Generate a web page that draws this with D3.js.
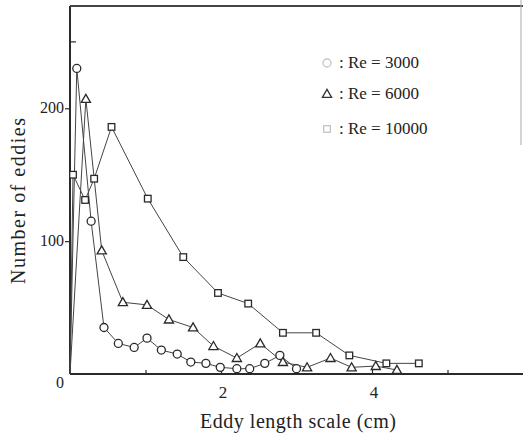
<!DOCTYPE html>
<html>
<head>
<meta charset="utf-8">
<script src="https://cdn.jsdelivr.net/npm/d3@7"></script>
<style>
  html, body { margin: 0; padding: 0; background: #fff; }
  svg { display: block; }
  text { font-family: "Liberation Serif", "DejaVu Serif", serif; fill: #222; }
</style>
</head>
<body>
<svg id="chart" width="523" height="434"></svg>
<script>
// Eddy length scale (cm) and number of eddies, per Reynolds number
const re3000X = [0, 0.09, 0.28, 0.45, 0.64, 0.85, 1.02, 1.21, 1.42, 1.6, 1.8, 1.99, 2.21, 2.38, 2.58, 2.78, 3.0];
const re3000Y = [0, 230, 115, 35, 23, 20, 27, 18, 15, 9, 8, 5, 4, 4, 8, 14, 4];

const re6000X = [0, 0.21, 0.42, 0.70, 1.02, 1.31, 1.63, 1.9, 2.21, 2.52, 2.82, 3.14, 3.45, 3.73, 4.05, 4.33];
const re6000Y = [0, 207, 93, 54, 52, 41, 35, 21, 12, 23, 9, 5, 12, 5, 6, 3];

const re10000X = [0, 0.04, 0.2, 0.32, 0.55, 1.03, 1.5, 1.96, 2.36, 2.82, 3.26, 3.7, 4.19, 4.62];
const re10000Y = [0, 150, 131, 147, 186, 132, 88, 61, 53, 31, 31, 14, 8, 8];

const legendLabels = ["Re = 3000", "Re = 6000", "Re = 10000"];
const xTickLabels = [2, 4];
const yTickLabels = [100, 200];

const svg = d3.select("#chart");
const x = d3.scaleLinear().domain([0, 6]).range([70, 523]);
const y = d3.scaleLinear().domain([0, 277]).range([374, 6]);

const series = [
  { xs: re3000X, ys: re3000Y, shape: "circle", label: legendLabels[0] },
  { xs: re6000X, ys: re6000Y, shape: "triangle", label: legendLabels[1] },
  { xs: re10000X, ys: re10000Y, shape: "square", label: legendLabels[2] }
];

const ink = "#2a2a2a";

// frame: left axis, bottom axis, top and partial right border
svg.append("line").attr("x1", x(0)).attr("x2", x(0)).attr("y1", y(277)).attr("y2", y(0))
  .attr("stroke", ink).attr("stroke-width", 2);
svg.append("line").attr("x1", x(0)).attr("x2", 523).attr("y1", y(0)).attr("y2", y(0))
  .attr("stroke", ink).attr("stroke-width", 1.8);
svg.append("line").attr("x1", x(0)).attr("x2", 523).attr("y1", y(277)).attr("y2", y(277))
  .attr("stroke", "#444").attr("stroke-width", 2);
svg.append("line").attr("x1", 521).attr("x2", 521).attr("y1", 0).attr("y2", 145)
  .attr("stroke", "#aaa").attr("stroke-width", 1);

// x axis ticks (pointing inward) and labels
const xAxis = d3.axisBottom(x).tickValues([1, 2, 3, 4, 5]).tickSize(-4).tickFormat("");
const gx = svg.append("g").attr("transform", `translate(0,${y(0)})`).call(xAxis);
gx.select(".domain").remove();
gx.selectAll(".tick line").attr("stroke", ink).attr("stroke-width", 1.2);
svg.selectAll(".xlab").data(xTickLabels).join("text")
  .attr("x", d => x(d) + 2).attr("y", 398)
  .attr("text-anchor", "middle").attr("font-size", 17).text(d => d);
svg.append("text").attr("x", 60).attr("y", 388).attr("text-anchor", "middle")
  .attr("font-size", 16).attr("fill", "#888").text("0");

// y axis ticks and labels
const yAxis = d3.axisLeft(y).tickValues(yTickLabels).tickSize(5).tickFormat("");
const gy = svg.append("g").attr("transform", `translate(${x(0)},0)`).call(yAxis);
gy.select(".domain").remove();
gy.selectAll(".tick line").attr("stroke", ink).attr("stroke-width", 1.2);
svg.append("line").attr("x1", x(0)).attr("x2", x(0) + 6).attr("y1", y(250)).attr("y2", y(250))
  .attr("stroke", ink).attr("stroke-width", 1.2);
svg.selectAll(".ylab").data(yTickLabels).join("text")
  .attr("x", 64).attr("y", d => y(d) + 5)
  .attr("text-anchor", "end").attr("font-size", 16).text(d => d);

// axis titles
svg.append("text").attr("x", 298).attr("y", 428).attr("text-anchor", "middle")
  .attr("font-size", 20).attr("textLength", 196).text("Eddy length scale (cm)");
svg.append("text").attr("transform", `translate(25,${201}) rotate(-90)`)
  .attr("text-anchor", "middle").attr("font-size", 20).attr("textLength", 166)
  .text("Number of eddies");

// markers
function drawMarker(g, shape, cx, cy, stroke) {
  if (shape === "circle") {
    g.append("circle").attr("cx", cx).attr("cy", cy).attr("r", 4)
      .attr("fill", "#fff").attr("stroke", stroke).attr("stroke-width", 1.3);
  } else if (shape === "triangle") {
    const s = 4.6;
    g.append("path")
      .attr("d", `M${cx},${cy - s}L${cx + s},${cy + s * 0.75}L${cx - s},${cy + s * 0.75}Z`)
      .attr("fill", "#fff").attr("stroke", stroke).attr("stroke-width", 1.3);
  } else {
    g.append("rect").attr("x", cx - 3.3).attr("y", cy - 3.3).attr("width", 6.6).attr("height", 6.6)
      .attr("fill", "#fff").attr("stroke", stroke).attr("stroke-width", 1.3);
  }
}

const line = d3.line().x(d => x(d[0])).y(d => y(d[1]));

series.forEach(s => {
  const pts = s.xs.map((v, i) => [v, s.ys[i]]);
  svg.append("path").datum(pts).attr("d", line)
    .attr("fill", "none").attr("stroke", "#444").attr("stroke-width", 1);
});
series.forEach(s => {
  const g = svg.append("g");
  s.xs.forEach((v, i) => {
    if (i === 0) return;
    drawMarker(g, s.shape, x(v), y(s.ys[i]), ink);
  });
});

// legend
const legendY = [63, 94, 129];
series.forEach((s, i) => {
  const g = svg.append("g");
  const faint = s.shape === "triangle" ? "#333" : "#c4c4c4";
  drawMarker(g, s.shape, 327, legendY[i], faint);
  svg.append("text").attr("x", 339).attr("y", legendY[i] + 5)
    .attr("font-size", 17).text(": " + s.label);
});
</script>
</body>
</html>
